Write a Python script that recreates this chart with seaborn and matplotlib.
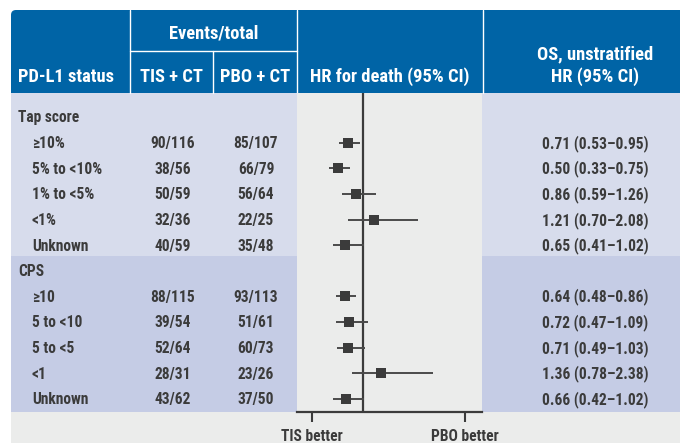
import matplotlib
matplotlib.use("Agg")
import matplotlib.pyplot as plt
import matplotlib.transforms as mtransforms
from matplotlib.patches import Rectangle, FancyBboxPatch
import pandas as pd
import seaborn as sns

# ---- data -------------------------------------------------------------
groups = ["Tap score", "CPS"]
tap_labels = ["≥10%", "5% to <10%", "1% to <5%", "<1%", "Unknown"]
cps_labels = ["≥10", "5 to <10", "5 to <5", "<1", "Unknown"]

tis_events = [90, 38, 50, 32, 40, 88, 39, 52, 28, 43]
tis_total = [116, 56, 59, 36, 59, 115, 54, 64, 31, 62]
pbo_events = [85, 66, 56, 22, 35, 93, 51, 60, 23, 37]
pbo_total = [107, 79, 64, 25, 48, 113, 61, 73, 26, 50]

hr = [0.71, 0.50, 0.86, 1.21, 0.65, 0.64, 0.72, 0.71, 1.36, 0.66]
ci_low = [0.53, 0.33, 0.59, 0.70, 0.41, 0.48, 0.47, 0.49, 0.78, 0.42]
ci_high = [0.95, 0.75, 1.26, 2.08, 1.02, 0.86, 1.09, 1.03, 2.38, 1.02]

axis_ticks = [0, 3]
axis_tick_labels = ["TIS better", "PBO better"]

# ---- table rows: a header row per group, then its subgroups -------------
header_rows = []
item_rows = []
item_labels = []
r = 0
for group, labels in zip(groups, [tap_labels, cps_labels]):
    header_rows.append((r, group))
    for lab in labels:
        r += 1
        item_rows.append(r)
        item_labels.append(lab)
    r += 1

df = pd.DataFrame({
    "row": item_rows,
    "label": item_labels,
    "tis": [f"{e}/{t}" for e, t in zip(tis_events, tis_total)],
    "pbo": [f"{e}/{t}" for e, t in zip(pbo_events, pbo_total)],
    "hr": hr,
    "lo": ci_low,
    "hi": ci_high,
})
df["hr_text"] = [f"{h:.2f} ({l:.2f}–{u:.2f})" for h, l, u in zip(df.hr, df.lo, df.hi)]

# ---- style --------------------------------------------------------------
sns.set_theme(style="white")
plt.rcParams["font.family"] = ["Roboto Condensed", "Liberation Sans Narrow",
                               "Roboto", "DejaVu Sans"]
plt.rcParams["font.weight"] = "bold"

BLUE = "#0064a6"
TAP_BG = "#d7dcec"
CPS_BG = "#c5cce5"
PANEL = "#ebeceb"
DARK = "#3b3b3b"
HEAD_FS = 13.3
BODY_FS = 11.2

W, H = 680, 443
fig = plt.figure(figsize=(W / 100, H / 100), dpi=100)

# full-figure canvas in pixel units for the table
bg = fig.add_axes([0, 0, 1, 1], zorder=0)
bg.set_xlim(0, W)
bg.set_ylim(H, 0)
bg.axis("off")

LEFT, HEAD_TOP, HEAD_BOT = 11, 10, 93
TAP_BOT, BODY_BOT = 256, 412
C1, C2, C3, C4 = 130, 213, 297, 483
PLOT_R = 482

# header band with rounded corner
bg.add_patch(FancyBboxPatch((LEFT, HEAD_TOP), W + 20 - LEFT, 60,
                            boxstyle="round,pad=0,rounding_size=5",
                            fc=BLUE, ec="none", zorder=1))
bg.add_patch(Rectangle((LEFT, HEAD_TOP + 30), W - LEFT, HEAD_BOT - HEAD_TOP - 30,
                       fc=BLUE, ec="none", zorder=1))
# section bands
bg.add_patch(Rectangle((LEFT, HEAD_BOT), W - LEFT, TAP_BOT - HEAD_BOT,
                       fc=TAP_BG, ec="none", zorder=1))
bg.add_patch(Rectangle((LEFT, TAP_BOT), W - LEFT, BODY_BOT - TAP_BOT,
                       fc=CPS_BG, ec="none", zorder=1))
bg.add_patch(Rectangle((LEFT, BODY_BOT), W - LEFT, H - BODY_BOT,
                       fc=PANEL, ec="none", zorder=1))

# header separators
for x in (C1, C3, C4):
    bg.plot([x, x], [HEAD_TOP, HEAD_BOT], color="white", lw=1.0, zorder=2)
bg.plot([C2, C2], [51, HEAD_BOT], color="white", lw=1.0, zorder=2)
bg.plot([C1, C3], [51, 51], color="white", lw=1.0, zorder=2)

# header text
hk = dict(color="white", fontsize=HEAD_FS, fontweight="bold", va="baseline", zorder=3)
bg.text(18, 81.7, "PD-L1 status", ha="left", **hk)
bg.text((C1 + C3) / 2, 38.3, "Events/total", ha="center", **hk)
bg.text((C1 + C2) / 2, 81.7, "TIS + CT", ha="center", **hk)
bg.text((C2 + C3) / 2, 81.7, "PBO + CT", ha="center", **hk)
bg.text((C3 + C4) / 2, 81.7, "HR for death (95% CI)", ha="center", **hk)
bg.text(595, 59.5, "OS, unstratified", ha="center", **hk)
bg.text(595, 81.7, "HR (95% CI)", ha="center", **hk)

# ---- forest panel -------------------------------------------------------
ax = fig.add_axes([C3 / W, (H - BODY_BOT) / H, (PLOT_R - C3) / W,
                   (BODY_BOT - HEAD_BOT) / H], zorder=2)
ax.set_facecolor(PANEL)

ax.axvline(1, color=DARK, lw=1.6, zorder=1)
ax.hlines(df["row"], df["lo"], df["hi"], color="#4a4a4a", lw=1.4, zorder=2)
sns.scatterplot(data=df, x="hr", y="row", marker="s", s=55, color=DARK,
                linewidth=0, legend=False, ax=ax, zorder=3)

# HR scale: 51 px per unit, HR = 1 sits 66 px right of the panel edge
PX_PER_UNIT = 51
ax.set_xlim(1 - 66 / PX_PER_UNIT, 1 + (PLOT_R - C3 - 66) / PX_PER_UNIT)
ROW_H, ROW0 = 25.64, 117
ax.set_ylim((BODY_BOT - ROW0) / ROW_H, (HEAD_BOT - ROW0) / ROW_H)

ax.set_xticks(axis_ticks)
ax.set_xticklabels(axis_tick_labels)
ax.set_yticks([])
ax.tick_params(axis="x", bottom=True, direction="out", length=7.4, width=1.5,
               color=DARK, pad=5.0, labelsize=BODY_FS, labelcolor=DARK)
for lab in ax.get_xticklabels():
    lab.set_fontweight("bold")
for s in ("top", "left", "right"):
    ax.spines[s].set_visible(False)
ax.spines["bottom"].set_color(DARK)
ax.spines["bottom"].set_linewidth(1.6)
ax.set_xlabel("")
ax.set_ylabel("")

# ---- table body text, rows aligned with the forest panel ---------------
row_tr = mtransforms.blended_transform_factory(bg.transData, ax.transData)
row_tr = mtransforms.offset_copy(row_tr, fig=fig, x=0, y=-5.3, units="dots")
bk = dict(color=DARK, fontsize=BODY_FS, fontweight="bold", va="baseline",
          transform=row_tr, zorder=3)

for row, name in header_rows:
    bg.text(18, row, name, ha="left", **bk)
for _, rec in df.iterrows():
    bg.text(32, rec["row"], rec["label"], ha="left", **bk)
    bg.text(172.5, rec["row"], rec["tis"], ha="center", **bk)
    bg.text(256, rec["row"], rec["pbo"], ha="center", **bk)
    bg.text(595, rec["row"], rec["hr_text"], ha="center", **bk)

fig.savefig("out.png", dpi=100)
